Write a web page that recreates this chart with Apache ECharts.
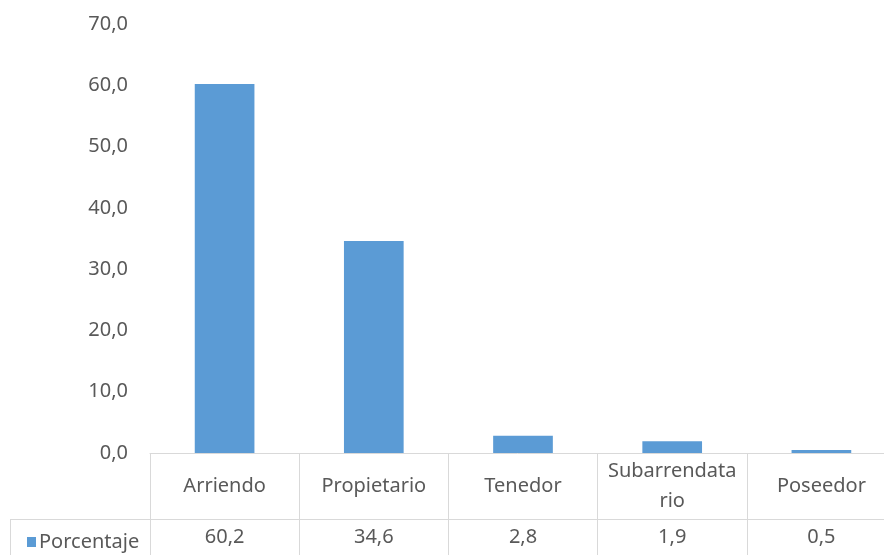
<!DOCTYPE html>
<html>
<head>
<meta charset="utf-8">
<script src="https://cdn.jsdelivr.net/npm/echarts@6/dist/echarts.min.js"></script>
<style>
html,body{margin:0;padding:0;background:#fff;}
#chart{width:884px;height:555px;}
</style>
</head>
<body>
<div id="chart"></div>
<script>
const categories = ['Arriendo', 'Propietario', 'Tenedor', 'Subarrendatario', 'Poseedor'];
const seriesName = 'Porcentaje';
const values = [60.2, 34.6, 2.8, 1.9, 0.5];
const yTicks = { min: 0, max: 70, interval: 10 };

const fmt = v => v.toFixed(1).replace('.', ',');
const FONT = 'Noto Sans';
const TXT = '#595959';
const LINE = '#D9D9D9';

const chart = echarts.init(document.getElementById('chart'));
chart.setOption({
  animation: false,
  textStyle: { fontFamily: FONT },
  grid: { left: 150, width: 746, top: 24, bottom: 102, containLabel: false, outerBoundsMode: 'none' },
  legend: {
    data: [{ name: seriesName, icon: 'rect' }],
    left: 22, top: 527,
    itemWidth: 9, itemHeight: 10, itemGap: 5,
    textStyle: { color: TXT, fontSize: 20, fontFamily: FONT, padding: [0, 0, 0, -2] }
  },
  xAxis: [{
    type: 'category',
    data: categories,
    position: 'bottom',
    axisLine: { show: true, lineStyle: { color: LINE, width: 1 } },
    axisTick: { show: true, length: 110, lineStyle: { color: LINE, width: 1 } },
    axisLabel: {
      color: TXT, fontSize: 20, fontFamily: FONT,
      margin: 33, verticalAlign: 'middle', lineHeight: 30,
      interval: 0,
      formatter: v => v.length > 12 ? v.slice(0, 12) + '\n' + v.slice(12) : v
    },
    splitLine: { show: false }
  }, {
    type: 'category',
    data: categories,
    position: 'bottom',
    axisLine: { show: false },
    axisTick: { show: false },
    axisLabel: {
      color: TXT, fontSize: 20, fontFamily: FONT,
      margin: 84, verticalAlign: 'middle', interval: 0,
      formatter: (v, i) => fmt(values[i])
    },
    splitLine: { show: false }
  }],
  yAxis: {
    type: 'value',
    min: yTicks.min, max: yTicks.max, interval: yTicks.interval,
    axisLine: { show: false },
    axisTick: { show: false },
    splitLine: { show: false },
    axisLabel: { color: TXT, fontSize: 20, fontFamily: FONT, margin: 22, formatter: v => fmt(v) }
  },
  series: [{
    name: seriesName,
    type: 'bar',
    data: values,
    barWidth: '40%',
    itemStyle: { color: '#5B9BD5' }
  }],
  graphic: [
    { type: 'line', shape: { x1: 10, y1: 519.5, x2: 884, y2: 519.5 }, style: { stroke: LINE, lineWidth: 1 } },
    { type: 'line', shape: { x1: 10.5, y1: 519, x2: 10.5, y2: 555 }, style: { stroke: LINE, lineWidth: 1 } }
  ]
});
</script>
</body>
</html>
